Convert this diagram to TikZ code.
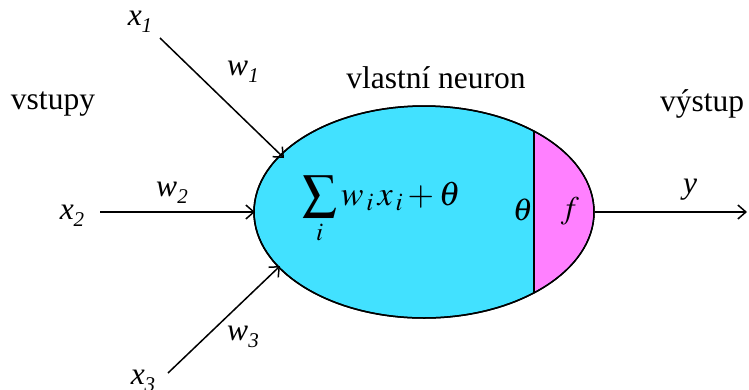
\documentclass[tikz,border=0pt]{standalone}
\usepackage{mathptmx}
\usepackage[no-math]{fontspec}
\setmainfont{Liberation Serif}
\usetikzlibrary{arrows.meta,shapes.geometric}
\definecolor{neurcyan}{HTML}{42E1FF}
\definecolor{neurpink}{HTML}{FF80FF}
\newcommand{\lab}[2]{\textit{#1}\raisebox{-0.22em}{\fontsize{21}{24}\selectfont\textit{#2}}}
\tikzset{
  txt/.style={font=\fontsize{31.5}{36}\selectfont, inner sep=0pt},
  conn/.style={line width=1.5pt, -{Straight Barb[length=8pt,width=14pt,line width=1.5pt]}},
}
\begin{document}
\begin{tikzpicture}[x=1pt,y=-1pt]
\useasboundingbox (0,0) rectangle (749,389);
% neuron body
\node[ellipse, draw, line width=1.5pt, fill=neurcyan, minimum width=340pt, minimum height=212pt, inner sep=0pt] (neuron) at (424,212) {};
\begin{scope}
  \clip (534,0) rectangle (749,389);
  \fill[neurpink] (424,212) ellipse [x radius=169.2pt, y radius=105.2pt];
\end{scope}
\draw[line width=1.5pt] (424,212) ellipse [x radius=170pt, y radius=106pt];
\coordinate (dtop) at (534,131.5);
\coordinate (dbot) at (534,292.5);
\draw[line width=1.2pt] (dtop) -- (dbot);
% texts
\node[txt] (vstupy) at (53,104) {vstupy};
\node[txt] (vlastni) at (436,78) {vlastní neuron};
\node[txt] (vystup) at (702,104) {výstup};
\node[txt] (x1) at (140,22) {\lab{x}{1}};
\node[txt] (x2) at (72,216) {\lab{x}{2}};
\node[txt] (x3) at (143,381) {\lab{x}{3}};
\node[txt] (w1) at (243,72) {\lab{w}{1}};
\node[txt] (w2) at (172,193) {\lab{w}{2}};
\node[txt] (w3) at (243,337) {\lab{w}{3}};
\node[txt] (y) at (690,190) {\textit{y}};
\node[txt] (theta) at (523,210) {$\theta$};
\node[txt] (f) at (570,211) {$f$};
\node[txt, anchor=west, font=\fontsize{34}{40}\selectfont] (sum) at (302,210) {$\displaystyle\sum_i w_{\,i}\,x_{\,i}+\theta$};
% connectors
\coordinate (s1) at (160,38);
\coordinate (s2) at (100,212);
\coordinate (s3) at (168,373);
\coordinate (e1) at (284,158);
\coordinate (e2) at (255,212);
\coordinate (e3) at (280,266);
\coordinate (out) at (747,212);
\draw[conn] (s1) -- (e1);
\draw[conn] (s2) -- (e2);
\draw[conn] (s3) -- (e3);
\draw[conn] (neuron.east) -- (out);
\end{tikzpicture}
\end{document}
